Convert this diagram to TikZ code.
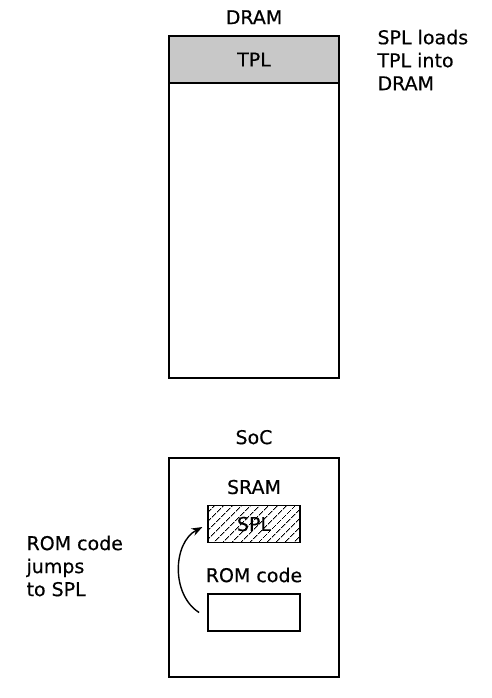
\documentclass[tikz,border=0pt]{standalone}
\usepackage{fontspec}
\setmainfont[FakeBold=0.4]{DejaVu Sans}
\usetikzlibrary{arrows.meta,positioning,patterns.meta}
\definecolor{mGray}{HTML}{C8C8C8}

\begin{document}
\begin{tikzpicture}[x=1pt,y=-1pt,
    every node/.style={font=\fontsize{19}{23}\selectfont},
    membox/.style={draw, line width=1.8pt, inner sep=0pt},
    boxlbl/.style={anchor=base, inner sep=0pt},
    note/.style={align=left, anchor=west}]
  \useasboundingbox (0,0) rectangle (491,698);
  % DRAM
  \node[membox, minimum width=170pt, minimum height=342pt] (dram) at (254,207) {};
  \node[membox, fill=mGray, minimum width=170pt, minimum height=47pt, anchor=north] (tpl) at (dram.north) {TPL};
  \node[boxlbl] (dramlbl) at ([yshift=11pt]dram.north) {DRAM};
  \node[note] (loads) at (374,60) {SPL loads\\TPL into\\DRAM};
  % SoC
  \node[membox, minimum width=170pt, minimum height=219pt] (soc) at (254,567.5) {};
  \node[boxlbl] (soclbl) at ([yshift=13pt]soc.north) {SoC};
  \node[membox, minimum width=92pt, minimum height=37pt,
        pattern={Lines[angle=45, distance=6.5pt, line width=1.1pt]}] (spl) at (254,524) {SPL};
  \node[boxlbl] (sramlbl) at ([yshift=11pt]spl.north) {SRAM};
  \node[membox, minimum width=92pt, minimum height=37pt] (rom) at (254,612.5) {};
  \node[boxlbl] (romlbl) at ([yshift=11pt]rom.north) {ROM code};
  \draw[line width=1.4pt, -{Stealth[length=11pt,width=8pt]}] ([xshift=-8pt]rom.west) to[bend left=60] ([xshift=-5pt,yshift=-3pt]spl.west);
  \node[note] (jumps) at (23,566) {ROM code\\jumps\\to SPL};
\end{tikzpicture}
\end{document}
